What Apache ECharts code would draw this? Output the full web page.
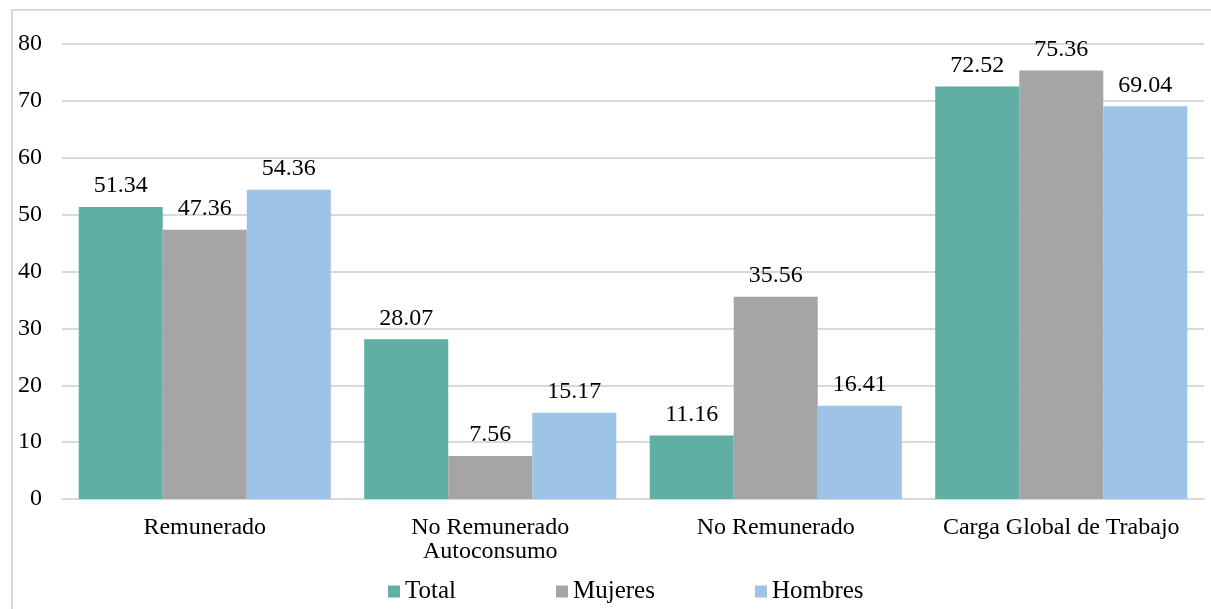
<!DOCTYPE html>
<html>
<head>
<meta charset="utf-8">
<script src="https://cdn.jsdelivr.net/npm/echarts@6/dist/echarts.min.js"></script>
<style>
  html, body { margin: 0; padding: 0; background: #fff; }
  #frame { position: absolute; left: 11px; top: 9px; width: 1220px; height: 620px; border: 2px solid #d9d9d9; box-sizing: border-box; }
  #chart { position: absolute; left: 0; top: 0; width: 1211px; height: 609px; }
</style>
</head>
<body>
<div id="frame"></div>
<div id="chart"></div>
<script>
// datos
var categorias = ['Remunerado', 'No Remunerado\nAutoconsumo', 'No Remunerado', 'Carga Global de Trabajo'];
var total = [51.34, 28.07, 11.16, 72.52];
var mujeres = [47.36, 7.56, 35.56, 75.36];
var hombres = [54.36, 15.17, 16.41, 69.04];
var ticksY = [0, 80, 10];

var fuente = 'Liberation Serif';

function serie(nombre, datos, color) {
  return {
    name: nombre,
    type: 'bar',
    data: datos,
    barGap: '0%',
    barCategoryGap: '11.7%',
    itemStyle: { color: color },
    label: {
      show: true,
      position: 'top',
      distance: 9,
      color: '#000',
      fontFamily: fuente,
      fontSize: 24,
      formatter: function (p) { return p.value.toFixed(2); }
    }
  };
}

var myChart = echarts.init(document.getElementById('chart'));
var option = {
  animation: false,
  grid: { left: 62, right: 7, top: 44, bottom: 110 },
  legend: {
    top: 574,
    left: 383,
    itemWidth: 12,
    itemHeight: 12,
    itemGap: 100,
    icon: 'rect',
    textStyle: { fontFamily: fuente, fontSize: 25, color: '#000' },
    data: ['Total', 'Mujeres', 'Hombres']
  },
  xAxis: {
    type: 'category',
    data: categorias,
    axisLine: { lineStyle: { color: '#d9d9d9', width: 2 } },
    axisTick: { show: false },
    axisLabel: { interval: 0, fontFamily: fuente, fontSize: 24, color: '#000', margin: 17, lineHeight: 24 }
  },
  yAxis: {
    type: 'value',
    min: ticksY[0],
    max: ticksY[1],
    interval: ticksY[2],
    axisLine: { show: false },
    axisTick: { show: false },
    splitLine: { lineStyle: { color: '#d9d9d9', width: 2 } },
    axisLabel: { fontFamily: fuente, fontSize: 24, color: '#000', margin: 20 }
  },
  series: [
    serie('Total', total, '#5fafa5'),
    serie('Mujeres', mujeres, '#a5a5a5'),
    serie('Hombres', hombres, '#9dc3e6')
  ]
};
myChart.setOption(option);
</script>
</body>
</html>
